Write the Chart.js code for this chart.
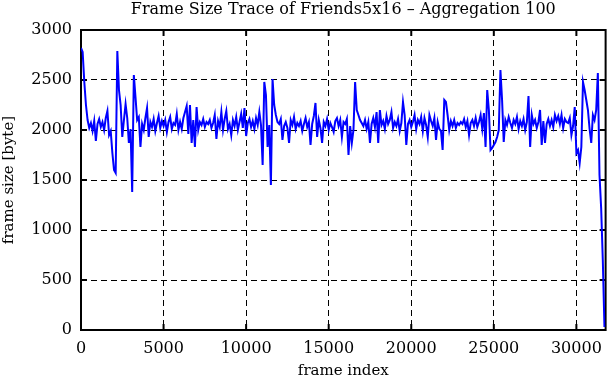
<!DOCTYPE html>
<html>
<head>
<meta charset="utf-8">
<script src="https://cdn.jsdelivr.net/npm/chart.js@4"></script>
<style>
body{margin:0;background:#fff}
canvas{display:block}
</style>
</head>
<body>
<canvas id="trace" width="611" height="380"></canvas>
<script>
const chartTitle = "Frame Size Trace of Friends5x16 \u2013 Aggregation 100"
const xLabel = "frame index"
const yLabel = "frame size [byte]"
const aggregation = 100
const xMax = 31770
const xTicks = [0, 5000, 10000, 15000, 20000, 25000, 30000]
const yTicks = [0, 500, 1000, 1500, 2000, 2500, 3000]

// one value per block of 100 frames
const frameSizes = [
2820, 2780, 2480, 2250, 2100, 2020, 2070, 1990, 2090, 1890,
2060, 2110, 2030, 2080, 2000, 2120, 2190, 1950, 1990, 1770,
1600, 1570, 2790, 2400, 2250, 1930, 2100, 2260, 2120, 1870,
2010, 1380, 2550, 2330, 2100, 2130, 1830, 2060, 2000, 2120,
2220, 1930, 2080, 2030, 2110, 1990, 2070, 2140, 2020, 2090,
2040, 2100, 1980, 2080, 2130, 2010, 2070, 2050, 2160, 2000,
2080, 2010, 2120, 2180, 2240, 1960, 2250, 1870, 2100, 1830,
2230, 2000, 2080, 2050, 2110, 2030, 2080, 2060, 2100, 2020,
2070, 2150, 1910, 2090, 2030, 2180, 2000, 2110, 2190, 2010,
2060, 1950, 2100, 2040, 2130, 2000, 2080, 2160, 2020, 2220,
1940, 2070, 2110, 2030, 2090, 2010, 2120, 2050, 2180, 2050,
1650, 2480, 2350, 1830, 2050, 1450, 2510, 2250, 2150, 2080,
2060, 2110, 1900, 2040, 2080, 2020, 1870, 2100, 2050, 2130,
2010, 2070, 2040, 2090, 1990, 2060, 2120, 2030, 2080, 1850,
2060, 2140, 2270, 1930, 2100, 2020, 1870, 2080, 2040, 2110,
2000, 2070, 2030, 1980, 2090, 2120, 2040, 2100, 1930, 2080,
2060, 2110, 1750, 2040, 1870, 2000, 2480, 2200, 2150, 2100,
2070, 2040, 2100, 2010, 2080, 1870, 2060, 2120, 2030, 2180,
1870, 2200, 2050, 2090, 2010, 2140, 2060, 2100, 2180, 2020,
2080, 2040, 2110, 1990, 2070, 2280, 2150, 1850, 2060, 2100,
2030, 2080, 2150, 2010, 2100, 2060, 2130, 1990, 2120, 2050,
1930, 2150, 2090, 2040, 2120, 1900, 2080, 2010, 1990, 1800,
2300, 2280, 2150, 2000, 2090, 2040, 2100, 2020, 2070, 2050,
2080, 2060, 2110, 2030, 2090, 1950, 2070, 2100, 2040, 2120,
2030, 2080, 2150, 2010, 2170, 1830, 2400, 2200, 1800, 1820,
1850, 1880, 1930, 2000, 2600, 2300, 1880, 2100, 2050, 2130,
2070, 2020, 2100, 2060, 2130, 2010, 2090, 2040, 2110, 2000,
2080, 2340, 1830, 2150, 2060, 2100, 2020, 2080, 2200, 1850,
2090, 1870, 2060, 2110, 2040, 2100, 2030, 2150, 2090, 2140,
2060, 2150, 2020, 2110, 2080, 2070, 2120, 1950, 2040, 2230,
1770, 1800, 1670, 1830, 2480, 2400, 2300, 2200, 2010, 1870,
2150, 2100, 2200, 2570, 1550, 1220, 700, 30
]

const points = frameSizes.map((v, i) => ({x: i * aggregation, y: v}))

const serif = "DejaVu Serif"

// gnuplot style box: solid border, small inner tick marks, title over plot
const gnuFrame = {
id: "gnuFrame",
beforeDatasetsDraw(chart){
const {ctx, chartArea: a, scales} = chart
ctx.save()
ctx.strokeStyle = "#000"
ctx.lineWidth = 2
ctx.beginPath()
scales.x.ticks.forEach(t => {
const px = scales.x.getPixelForValue(t.value)
ctx.moveTo(px, a.bottom); ctx.lineTo(px, a.bottom - 6)
ctx.moveTo(px, a.top); ctx.lineTo(px, a.top + 6)
})
scales.y.ticks.forEach(t => {
const py = scales.y.getPixelForValue(t.value)
ctx.moveTo(a.left, py); ctx.lineTo(a.left + 6, py)
ctx.moveTo(a.right, py); ctx.lineTo(a.right - 6, py)
})
ctx.stroke()
ctx.strokeRect(a.left, a.top, a.right - a.left, a.bottom - a.top)
ctx.restore()
},
afterDraw(chart){
const {ctx, chartArea: a} = chart
ctx.save()
ctx.fillStyle = "#000"
ctx.font = "16px '" + serif + "'"
ctx.textAlign = "center"
ctx.textBaseline = "middle"
ctx.fillText(chartTitle, (a.left + a.right) / 2, 10)
ctx.restore()
}
}

new Chart(document.getElementById("trace"), {
type: "line",
data: {
datasets: [{
data: points,
borderColor: "#0000ff",
borderWidth: 2,
pointRadius: 0,
tension: 0,
fill: false
}]
},
options: {
responsive: false,
animation: false,
layout: { padding: { top: 30, right: 3, left: 0, bottom: 0 } },
plugins: { legend: { display: false }, tooltip: { enabled: false } },
scales: {
x: {
type: "linear",
min: 0,
max: xMax,
afterFit(s){ s.height = 50 },
afterBuildTicks(s){ s.ticks = xTicks.map(v => ({value: v})) },
ticks: { padding: 9, color: "#000", font: { family: serif, size: 16 }, maxRotation: 0, autoSkip: false, callback: v => String(v) },
grid: { color: "#000", lineWidth: 1, drawTicks: false },
border: { display: false, dash: [6, 4] },
title: { display: true, text: xLabel, color: "#000", font: { family: serif, size: 15 }, padding: { top: 0, bottom: 0 } }
},
y: {
min: 0,
max: yTicks[yTicks.length - 1],
afterFit(s){ s.width = 81 },
afterBuildTicks(s){ s.ticks = yTicks.map(v => ({value: v})) },
ticks: { padding: 9, color: "#000", font: { family: serif, size: 16 }, callback: v => String(v) },
grid: { color: "#000", lineWidth: 1, drawTicks: false },
border: { display: false, dash: [6, 4] },
title: { display: true, text: yLabel, color: "#000", font: { family: serif, size: 15 }, padding: { top: 0, bottom: 0 } }
}
}
},
plugins: [gnuFrame]
})
</script>
</body>
</html>
